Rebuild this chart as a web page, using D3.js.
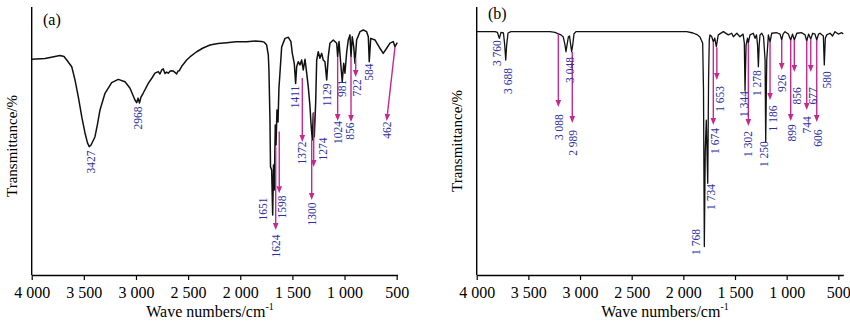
<!DOCTYPE html>
<html><head><meta charset="utf-8">
<script src="https://cdn.jsdelivr.net/npm/d3@7/dist/d3.min.js"></script>
<style>body{margin:0;background:#fff}svg{display:block}</style>
</head><body>
<svg id="c" width="850" height="324"></svg>
<script>
// ---------- DATA ----------
const tickValues = [4000, 3500, 3000, 2500, 2000, 1500, 1000, 500];
const xTitle = "Wave numbers/cm";
const yTitle = "Transmittance/%";
const panelNames = ["(a)", "(b)"];

// Spectrum (a)
const waveA = [4000,3872,3729,3690,3664,3616,3585,3553,3518,3489,3465,3448,3431,3393,3369,3345,3297,3233,3170,3105,3057,3010,2993,2980,2966,2952,2930,2882,2847,2818,2786,2770,2753,2738,2722,2706,2690,2674,2658,2642,2626,2610,2597,2585,2559,2514,2473,2418,2357,2290,2214,2130,2041,1938,1859,1795,1772,1747,1731,1725,1715,1710,1699,1689,1681,1674,1664,1657,1648,1638,1629,1614,1603,1571,1539,1514,1501,1482,1469,1459,1444,1427,1411,1396,1379,1363,1348,1331,1322,1309,1300,1290,1277,1267,1252,1236,1219,1204,1188,1171,1156,1140,1108,1075,1066,1053,1034,1022,1008,996,979,964,948,938,926,912,900,884,852,820,788,772,763,749,708,660,629,596,564,533,516,494];
const transA = [80.5,80.8,81.9,81.5,80.2,77.7,72.8,66.5,58.6,53,49.3,47.9,48.5,51.6,56.3,61.6,67.8,71.8,73,72.1,69.7,65.3,64.3,66,64.2,66.4,67.9,71.5,73.5,75.3,75.9,75,76.5,76.9,75.2,75.7,75.3,76,76.2,76.1,75.6,75,76.1,76.2,78,80.2,81.7,83.3,84.7,85.8,86.4,86.7,87,87,87.3,87.1,86.9,85.8,82.1,76.5,57.8,40.4,39.2,22.4,41,31.7,56,48.5,61.6,57.1,69.8,78.4,85.1,88.3,88.7,87.1,82.7,79,71.5,77.7,79.6,78.4,80.2,76.5,80.5,75.3,70.3,62.8,56.6,50.4,60.4,51.6,64.1,80.2,83.3,80.9,82.7,80.2,79.6,72.8,81.5,86.5,87.7,86.5,81.5,87.1,77.7,72.1,79,75.3,83.3,87.7,89.6,81.5,88.9,85.2,79,87.7,90.8,91.4,90.8,88.9,79.6,88.3,87.7,84.6,82.7,84.6,86.5,87.1,85.2,86.7];

// Spectrum (b)
const waveB = [4000,3823,3799,3781,3765,3741,3729,3719,3710,3697,3668,3291,3242,3210,3184,3162,3145,3136,3126,3113,3102,3090,3081,3071,3058,3039,1967,1906,1868,1839,1813,1805,1797,1788,1778,1764,1756,1749,1742,1725,1710,1696,1681,1662,1613,1565,1532,1516,1483,1452,1422,1410,1403,1393,1379,1371,1355,1323,1306,1292,1282,1274,1266,1258,1241,1224,1209,1203,1193,1177,1161,1145,1096,1064,1048,1035,1016,984,961,943,926,902,854,822,806,788,767,748,726,709,692,677,645,636,626,612,580,556,532,500,467,452];
const transB = [90.8,90.8,90.5,88.3,90.5,90.3,85.8,80.2,85.8,90.3,90.8,90.8,90.5,90,89.6,88.8,85.8,83.3,85.8,88.8,89.2,85.8,83.3,85.8,90,90.8,90.8,90.3,89.7,88.8,86.5,69,10.6,46.6,57.8,34.2,72.8,87.7,89.6,88.9,87,88.4,85.2,89.6,90.8,89.6,90.2,88.9,90.2,88.9,89.9,86.6,68.7,85.8,88.4,86.6,89.6,90.2,88.3,89.6,85.8,77.7,85.8,89.6,90.2,88.9,80.2,49.7,80.2,89.6,87,90.2,90.4,89.9,87.7,89.9,90.8,89.9,87.7,89.9,87.7,90.2,90.4,89.6,87.3,89.9,88.1,90.2,89.9,87.7,89.9,90.2,89.2,78.4,88.4,89.6,90.2,89.2,90.8,89.9,90.4,89.9];

// Peak labels (a): text, wavenumber, transmittance of label centre
const labelTextA = ["3427","2968","1651","1624","1598","1411","1372","1300","1274","1129","1024","981","856","722","584","462"];
const labelWaveA = [3427,2978,1785,1660,1597,1475,1411,1315,1202,1171,1060,1027,948,878,763,596];
const labelTransA = [42.2,58.6,24.6,10.8,25.4,66.4,45.5,22.8,47,67.2,53.2,69.6,53.7,69.8,75.7,54.1];
// Arrows (a): [wave1, T1, wave2, T2]
const arrowsA = [[1660,47.9,1660,16.8],[1626,53.5,1626,30.5],[1405,73.5,1405,49.6],[1315,50.4,1315,28],[1296,60.8,1296,40.3],[1066,81.3,1066,57.5],[938,81.3,938,57.1],[893,81,893,73.9],[516,85.1,596,57.5]];

// Peak labels (b)
const labelTextB = ["3 760","3 688","3 088","3 048","2 989","1 768","1 734","1 674","1 653","1 344","1 302","1 278","1 250","1 186","926","899","856","744","677","606","580"];
const labelWaveB = [3806,3694,3201,3100,3065,1877,1732,1694,1645,1413,1371,1284,1216,1137,1042,951,897,806,748,700,607];
const labelTransB = [82.8,72.4,55.2,76.5,49.3,12.3,29.1,50,65.7,63.8,48.9,71.6,45.1,58.4,71.5,53,66.8,56,66.8,51.1,72.8];
const arrowsB = [[3210,90,3210,62.7],[3075,83.2,3075,56.7],[1710,86.9,1710,56],[1676,85,1676,72.8],[1371,86.6,1371,55.6],[1161,86.9,1161,65.3],[1048,87.7,1048,76.5],[961,87.7,961,57.5],[926,87.7,926,75.7],[806,87.3,806,61.6],[767,88.1,767,75.7],[709,87.7,709,57.1]];

// ---------- DRAW ----------
const svg = d3.select("#c");
const serif = "'Times New Roman','Liberation Serif',serif";
const labelColor = "#2f2f9c";
const arrowColor = "#c42a8e";
const y = d3.scaleLinear().domain([0, 100]).range([275, 7]);
const fmt = d => d3.format(",")(d).replace(",", " ");

function panel(cfg) {
  const g = svg.append("g");
  const x = cfg.x;
  g.append("line").attr("x1", x.range()[0]).attr("x2", x.range()[0])
    .attr("y1", y(100)).attr("y2", y(0)).attr("stroke", "#000").attr("stroke-width", 1.4);
  const ax = g.append("g").attr("transform", `translate(0,${y(0)})`)
    .call(d3.axisBottom(x).tickValues(tickValues).tickSize(5).tickSizeOuter(0).tickFormat(fmt));
  ax.select(".domain").attr("stroke-width", 1.4);
  ax.selectAll(".tick line").attr("stroke-width", 1.2);
  ax.selectAll("text").attr("font-family", serif).attr("font-size", 16).attr("fill", "#000").attr("dy", "0.95em");
  const pts = cfg.wave.map((w, i) => [w, cfg.trans[i]]);
  g.append("path").datum(pts)
    .attr("d", d3.line().x(d => x(d[0])).y(d => y(d[1])))
    .attr("fill", "none").attr("stroke", "#111").attr("stroke-width", cfg.lw).attr("stroke-linejoin", "round");
  cfg.arrows.forEach(a => {
    const x1 = x(a[0]), y1 = y(a[1]), x2 = x(a[2]), y2 = y(a[3]);
    const len = Math.hypot(x2 - x1, y2 - y1), ux = (x2 - x1) / len, uy = (y2 - y1) / len;
    const hl = 7, hw = 2.8;
    const bx = x2 - ux * hl, by = y2 - uy * hl;
    g.append("line").attr("x1", x1).attr("y1", y1).attr("x2", bx).attr("y2", by)
      .attr("stroke", arrowColor).attr("stroke-width", 1.4);
    g.append("path").attr("d", `M${x2},${y2}L${bx - uy * hw},${by + ux * hw}L${bx + uy * hw},${by - ux * hw}Z`)
      .attr("fill", arrowColor);
  });
  cfg.labels.forEach((t, i) => {
    const lx = x(cfg.lw_[i]), ly = y(cfg.lt[i]);
    g.append("text").attr("transform", `translate(${lx},${ly}) rotate(-90)`)
      .attr("text-anchor", "middle").attr("dominant-baseline", "central")
      .attr("font-family", serif).attr("font-size", 11.5).attr("fill", labelColor).text(t);
  });
  g.append("text").attr("x", cfg.nx).attr("y", cfg.ny).attr("font-family", serif)
    .attr("font-size", 16).text(cfg.name);
  const xt = g.append("text").attr("x", cfg.xtx).attr("y", 317).attr("text-anchor", "middle")
    .attr("font-family", serif).attr("font-size", 16);
  xt.append("tspan").text(xTitle);
  xt.append("tspan").attr("font-size", 10).attr("dy", -7).text("-1");
  g.append("text").attr("transform", `translate(${cfg.ytx},${cfg.yty}) rotate(-90)`)
    .attr("text-anchor", "middle").attr("font-family", serif).attr("font-size", 15).text(yTitle);
}

panel({
  x: d3.scaleLinear().domain([4000, 494]).range([31.7, 397.3]),
  wave: waveA, trans: transA, lw: 1.5, arrows: arrowsA,
  labels: labelTextA, lw_: labelWaveA, lt: labelTransA,
  name: panelNames[0], nx: 43, ny: 25, xtx: 210, ytx: 17, yty: 146
});
panel({
  x: d3.scaleLinear().domain([4000, 452]).range([476.7, 843.3]),
  wave: waveB, trans: transB, lw: 1.3, arrows: arrowsB,
  labels: labelTextB, lw_: labelWaveB, lt: labelTransB,
  name: panelNames[1], nx: 488, ny: 19, xtx: 665, ytx: 462, yty: 141
});
</script>
</body></html>
